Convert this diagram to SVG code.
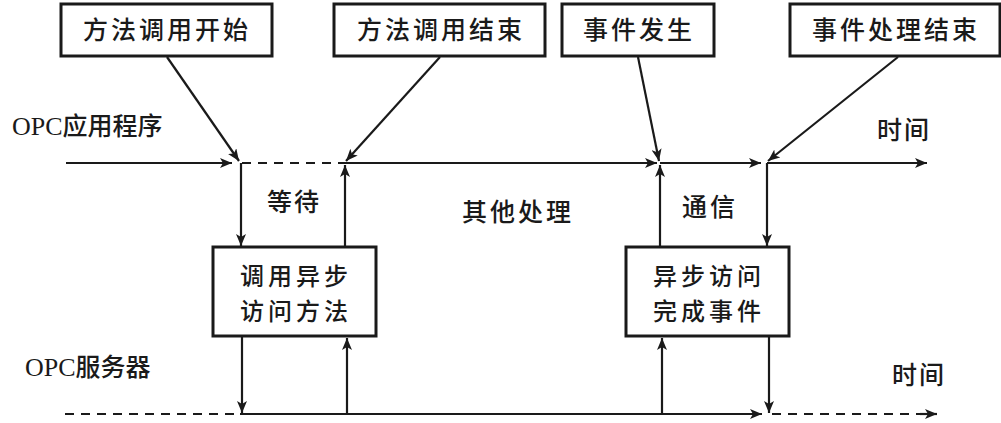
<svg xmlns="http://www.w3.org/2000/svg" width="1001" height="423" viewBox="0 0 1001 423">
<style>
.box{fill:#fff;stroke:#1a1a1a;stroke-width:3}
.ln{stroke:#1a1a1a;stroke-width:2.2;fill:none}
.dash{stroke:#1a1a1a;stroke-width:2.2;fill:none;stroke-dasharray:9 7}
.t{font-family:"Noto Sans CJK SC",sans-serif;font-size:25px;font-weight:500;fill:#1a1a1a;text-anchor:middle;letter-spacing:3px}
.t2{font-family:"Noto Sans CJK SC",sans-serif;font-size:24px;font-weight:500;fill:#1a1a1a;text-anchor:middle;letter-spacing:4px}
.lab{font-family:"Liberation Serif","Noto Sans CJK SC",serif;font-size:26px;fill:#1a1a1a}
.lab2{font-family:"Noto Sans CJK SC",sans-serif;font-size:25px;font-weight:500;fill:#1a1a1a}
</style>
<defs>
<marker id="ah" viewBox="0 0 12 10" refX="12" refY="5" markerWidth="12" markerHeight="10" markerUnits="userSpaceOnUse" orient="auto">
<path d="M0,0 L12,5 L0,10 L3,5 Z" fill="#1a1a1a"/>
</marker>
</defs>
<g id="n-start"><rect class="box" x="61" y="4" width="211" height="52"/><text class="t" x="167" y="39">方法调用开始</text></g>
<g id="n-end"><rect class="box" x="334" y="4" width="211" height="52"/><text class="t" x="441" y="39">方法调用结束</text></g>
<g id="n-event"><rect class="box" x="562" y="4" width="152" height="52"/><text class="t" x="639" y="39">事件发生</text></g>
<g id="n-evend"><rect class="box" x="790" y="4" width="210" height="52"/><text class="t" x="896" y="39">事件处理结束</text></g>
<g id="n-call"><rect class="box" x="213" y="247" width="163" height="89"/><text class="t2" x="296" y="285">调用异步</text><text class="t2" x="296" y="320">访问方法</text></g>
<g id="n-done"><rect class="box" x="626" y="247" width="163" height="89"/><text class="t2" x="709" y="285">异步访问</text><text class="t2" x="709" y="320">完成事件</text></g>
<g id="labels">
<text class="lab" x="12" y="135">OPC<tspan class="lab2" font-size="26">应用程序</tspan></text>
<text class="lab" x="25" y="376">OPC<tspan class="lab2" font-size="26">服务器</tspan></text>
<text class="lab2" x="877" y="139" letter-spacing="2">时间</text>
<text class="lab2" x="892" y="384" letter-spacing="2">时间</text>
<text class="lab2" x="267" y="211" letter-spacing="2">等待</text>
<text class="lab2" x="462" y="221" letter-spacing="3">其他处理</text>
<text class="lab2" x="682" y="216" letter-spacing="3">通信</text>
</g>
<g id="connectors">
<line class="ln" x1="66" y1="163" x2="232" y2="163" marker-end="url(#ah)"/>
<line class="dash" x1="242" y1="163" x2="345" y2="163"/>
<line class="ln" x1="345" y1="163" x2="657" y2="163" marker-end="url(#ah)"/>
<line class="ln" x1="660" y1="163" x2="761" y2="163" marker-end="url(#ah)"/>
<line class="ln" x1="767" y1="163" x2="927" y2="163" marker-end="url(#ah)"/>
<line class="ln" x1="167" y1="57" x2="239" y2="161" marker-end="url(#ah)"/>
<line class="ln" x1="440" y1="57" x2="346" y2="161" marker-end="url(#ah)"/>
<line class="ln" x1="638" y1="57" x2="659" y2="161" marker-end="url(#ah)"/>
<line class="ln" x1="898" y1="57" x2="768" y2="161" marker-end="url(#ah)"/>
<line class="ln" x1="241" y1="163" x2="241" y2="246" marker-end="url(#ah)"/>
<line class="ln" x1="345" y1="247" x2="345" y2="165" marker-end="url(#ah)"/>
<line class="ln" x1="660" y1="247" x2="660" y2="165" marker-end="url(#ah)"/>
<line class="ln" x1="767" y1="163" x2="767" y2="246" marker-end="url(#ah)"/>
<line class="ln" x1="242" y1="337" x2="242" y2="413" marker-end="url(#ah)"/>
<line class="ln" x1="347" y1="414" x2="347" y2="338" marker-end="url(#ah)"/>
<line class="ln" x1="662" y1="414" x2="662" y2="338" marker-end="url(#ah)"/>
<line class="ln" x1="769" y1="337" x2="769" y2="413" marker-end="url(#ah)"/>
<line class="dash" x1="65" y1="414" x2="240" y2="414"/>
<line class="ln" x1="240" y1="414" x2="762" y2="414" marker-end="url(#ah)"/>
<line class="dash" x1="772" y1="414" x2="925" y2="414"/>
<line class="ln" x1="920" y1="414" x2="937" y2="414" marker-end="url(#ah)"/>
</g>
</svg>
